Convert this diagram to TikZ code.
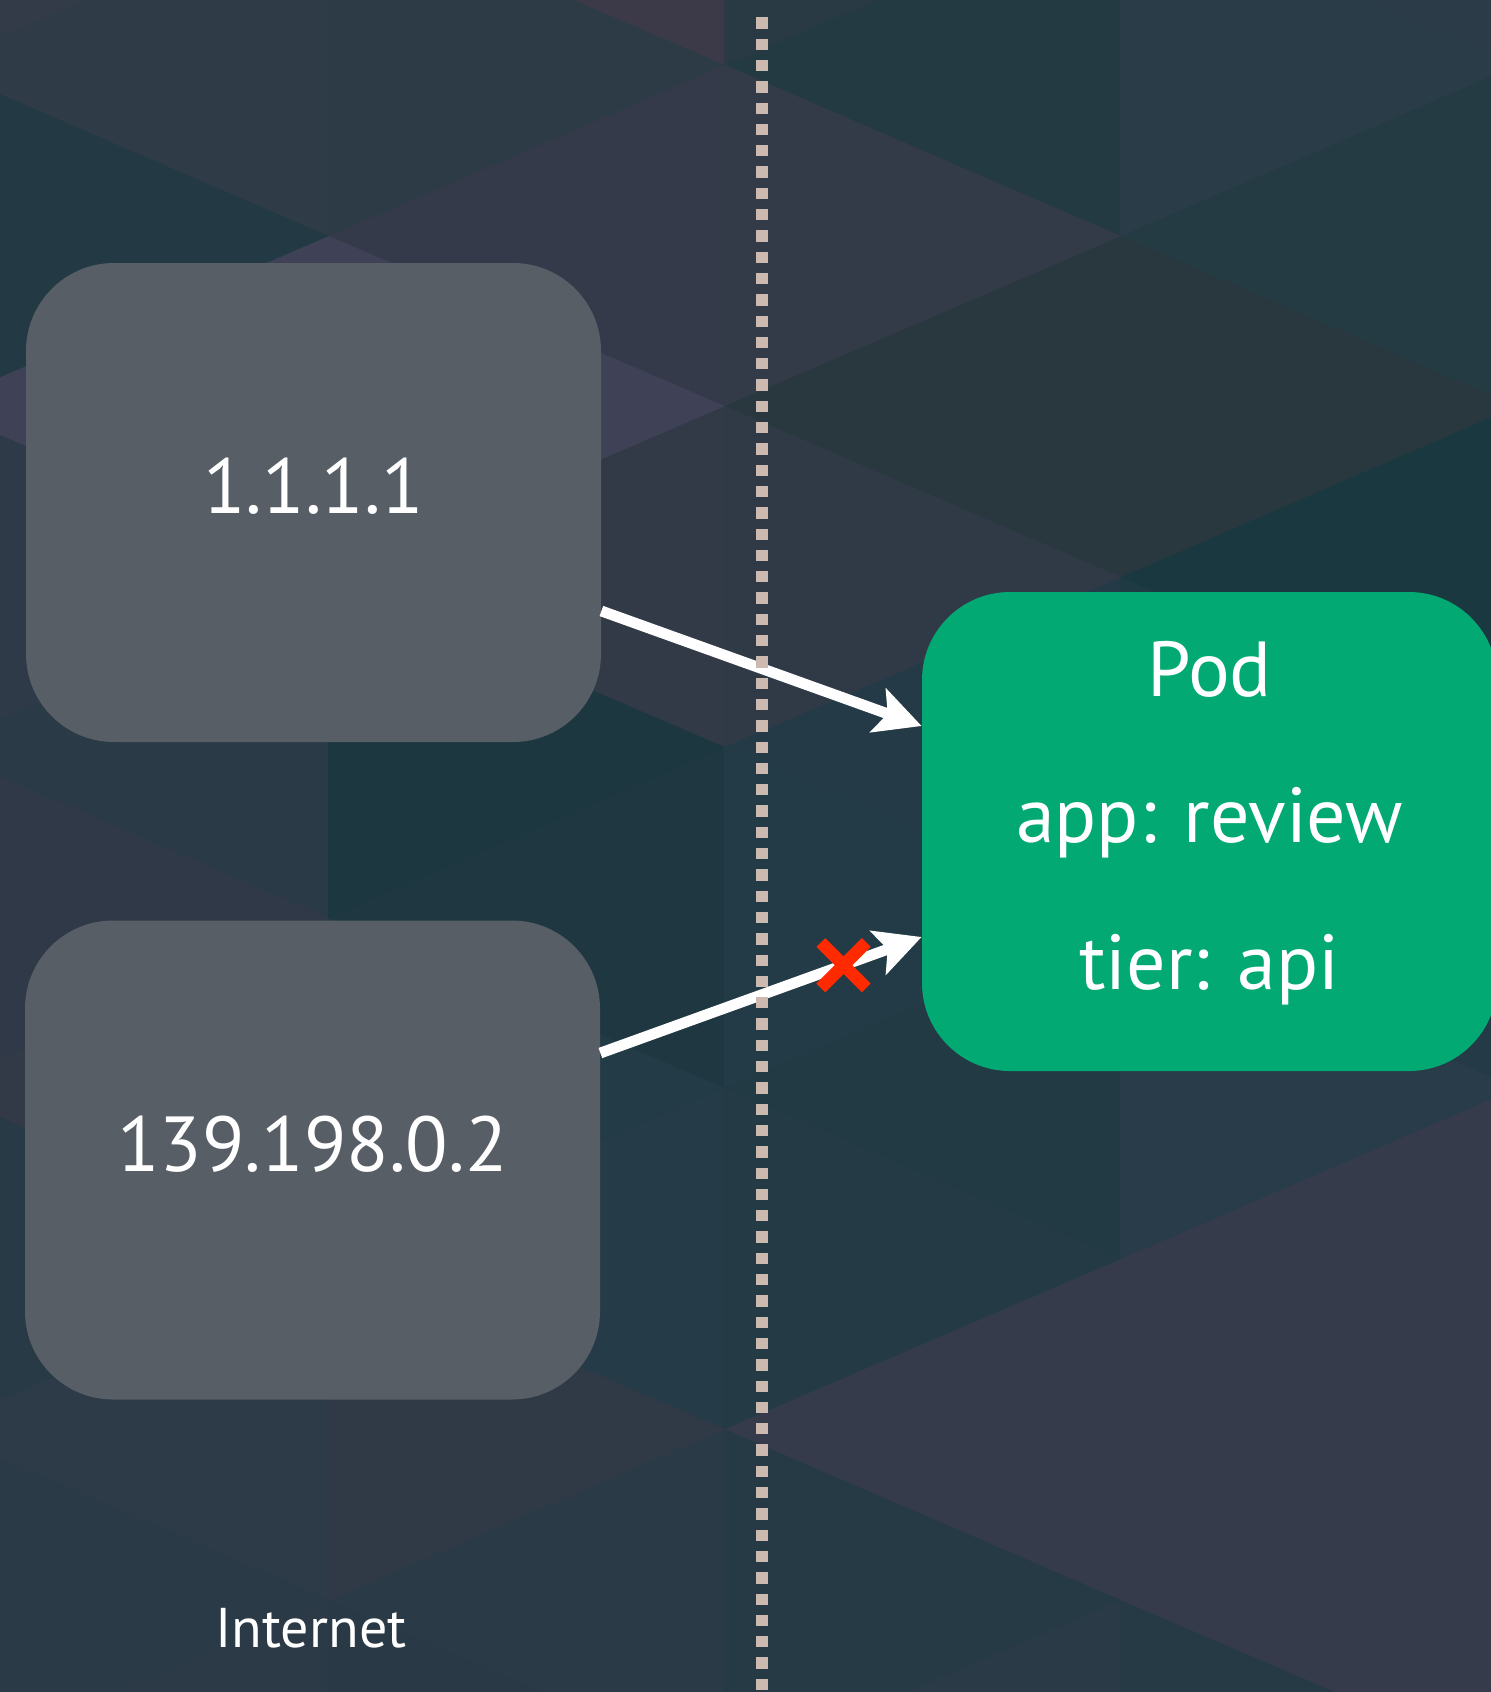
\documentclass[tikz,border=0pt]{standalone}
\usepackage{fontspec}
\setmainfont{PT Sans}
\usetikzlibrary{arrows.meta,shapes.misc}

\definecolor{boxgray}{HTML}{575E66}
\definecolor{podgreen}{HTML}{02A972}
\definecolor{sepdot}{HTML}{CCB9B0}
\definecolor{denyred}{HTML}{FF2A00}
\definecolor{bgbase}{HTML}{2B3A46}

% one flat-shaded triangle of the background lattice
\newcommand\bgtri[4]{%
  \definecolor{tricolor}{HTML}{#1}%
  \fill[tricolor, draw=tricolor, line width=0.8pt, line join=round] #2 -- #3 -- #4 -- cycle;}

\begin{document}
\begin{tikzpicture}[x=0.5pt,y=-0.5pt,
  box/.style={rectangle, rounded corners=44pt, minimum width=287.5pt,
              minimum height=239.5pt, inner sep=0pt},
  hostbox/.style={box, fill=boxgray},
  podbox/.style={box, fill=podgreen},
  bigtext/.style={text=white, inner sep=0pt, font=\fontsize{39pt}{47pt}\selectfont},
  smalltext/.style={text=white, inner sep=0pt, font=\fontsize{28pt}{34pt}\selectfont},
  link/.style={draw=white, line width=5.4pt,
               -{Stealth[length=23pt,width=23pt,inset=5pt]}},
  sepline/.style={draw=sepdot, line width=5.65pt, dash pattern=on 5.65pt off 5pt},
  deny/.style={cross out, draw=denyred, line width=6.2pt, minimum size=16.5pt, inner sep=0pt}
]
\useasboundingbox (0,0) rectangle (1491,1692);
\clip (0,0) rectangle (1491,1692);
\fill[bgbase] (0,0) rectangle (1491,1692);

% background: triangle lattice, columns at x = -67, 329, 725, 1121, 1517
% strip -67 .. 329
\bgtri{333A48}{(-67,-275)}{(-67,66)}{(329,-104)}
\bgtri{303B48}{(329,-104)}{(329,237)}{(-67,66)}
\bgtri{233A44}{(-67,66)}{(-67,407)}{(329,237)}
\bgtri{3F4256}{(329,237)}{(329,578)}{(-67,407)}
\bgtri{2E3A47}{(-67,407)}{(-67,748)}{(329,578)}
\bgtri{2A3A47}{(329,578)}{(329,919)}{(-67,748)}
\bgtri{2F3947}{(-67,748)}{(-67,1089)}{(329,919)}
\bgtri{323947}{(329,919)}{(329,1260)}{(-67,1089)}
\bgtri{283A46}{(-67,1089)}{(-67,1430)}{(329,1260)}
\bgtri{2D3A47}{(329,1260)}{(329,1601)}{(-67,1430)}
\bgtri{2A3A46}{(-67,1430)}{(-67,1771)}{(329,1601)}
\bgtri{2B3A46}{(329,1601)}{(329,1942)}{(-67,1771)}
% strip 329 .. 725
\bgtri{3C3A48}{(725,-275)}{(725,66)}{(329,-104)}
\bgtri{2D3B46}{(329,-104)}{(329,237)}{(725,66)}
\bgtri{343A49}{(725,66)}{(725,407)}{(329,237)}
\bgtri{3F4256}{(329,237)}{(329,578)}{(725,407)}
\bgtri{323A48}{(725,407)}{(725,748)}{(329,578)}
\bgtri{1D3740}{(329,578)}{(329,919)}{(725,748)}
\bgtri{1E3740}{(725,748)}{(725,1089)}{(329,919)}
\bgtri{233B47}{(329,919)}{(329,1260)}{(725,1089)}
\bgtri{263B48}{(725,1089)}{(725,1430)}{(329,1260)}
\bgtri{303A47}{(329,1260)}{(329,1601)}{(725,1430)}
\bgtri{2A3A46}{(725,1430)}{(725,1771)}{(329,1601)}
\bgtri{293A46}{(329,1601)}{(329,1942)}{(725,1771)}
% strip 725 .. 1121
\bgtri{293A45}{(725,-275)}{(725,66)}{(1121,-104)}
\bgtri{243A43}{(1121,-104)}{(1121,237)}{(725,66)}
\bgtri{333A48}{(725,66)}{(725,407)}{(1121,237)}
\bgtri{29383F}{(1121,237)}{(1121,578)}{(725,407)}
\bgtri{303A47}{(725,407)}{(725,748)}{(1121,578)}
\bgtri{243B47}{(1121,578)}{(1121,919)}{(725,748)}
\bgtri{233B47}{(725,748)}{(725,1089)}{(1121,919)}
\bgtri{223A44}{(1121,919)}{(1121,1260)}{(725,1089)}
\bgtri{243A45}{(725,1089)}{(725,1430)}{(1121,1260)}
\bgtri{363B4C}{(1121,1260)}{(1121,1601)}{(725,1430)}
\bgtri{263A46}{(725,1430)}{(725,1771)}{(1121,1601)}
\bgtri{2A3A47}{(1121,1601)}{(1121,1942)}{(725,1771)}
% strip 1121 .. 1517
\bgtri{2B3B48}{(1517,-275)}{(1517,66)}{(1121,-104)}
\bgtri{2B3C49}{(1121,-104)}{(1121,237)}{(1517,66)}
\bgtri{253B44}{(1517,66)}{(1517,407)}{(1121,237)}
\bgtri{29383F}{(1121,237)}{(1121,578)}{(1517,407)}
\bgtri{1A383F}{(1517,407)}{(1517,748)}{(1121,578)}
\bgtri{1F3A42}{(1121,578)}{(1121,919)}{(1517,748)}
\bgtri{243B47}{(1517,748)}{(1517,1089)}{(1121,919)}
\bgtri{283C4A}{(1121,919)}{(1121,1260)}{(1517,1089)}
\bgtri{363B4C}{(1517,1089)}{(1517,1430)}{(1121,1260)}
\bgtri{363B4C}{(1121,1260)}{(1121,1601)}{(1517,1430)}
\bgtri{363B4C}{(1517,1430)}{(1517,1771)}{(1121,1601)}
\bgtri{263A46}{(1121,1601)}{(1121,1942)}{(1517,1771)}

% hosts on the internet side
\node[hostbox] (ipa) at (313.5,502.5) {};
\node[bigtext] (ipatext) at ([yshift=8pt]ipa.center) {1.1.1.1};
\node[hostbox] (ipb) at (312.5,1160) {};
\node[bigtext] (ipbtext) at ([yshift=8pt]ipb.center) {139.198.0.2};
\node[smalltext] (zone) at (311,1628) {Internet};

% the pod with its labels
\node[podbox] (pod) at (1209.5,831.5) {};
\node[bigtext, anchor=base] (podname) at ([yshift=67.75pt]pod.center) {Pod};
\node[bigtext, anchor=base] (podapp) at ([yshift=-5.5pt]pod.center) {app: review};
\node[bigtext, anchor=base] (podtier) at ([yshift=-78.75pt]pod.center) {tier: api};

% traffic: one allowed, one denied
\draw[link] ([yshift=-54.25pt]ipa.east) -- ([yshift=52.75pt]pod.west);
\draw[link] ([yshift=53.5pt]ipb.east) -- node[deny, pos=0.757] (blocked) {} ([yshift=-52.75pt]pod.west);

% boundary between the internet and the cluster
\coordinate (septop) at (762,17.3);
\coordinate (sepbot) at (762,1700);
\draw[sepline] (septop) -- (sepbot);
\end{tikzpicture}
\end{document}
